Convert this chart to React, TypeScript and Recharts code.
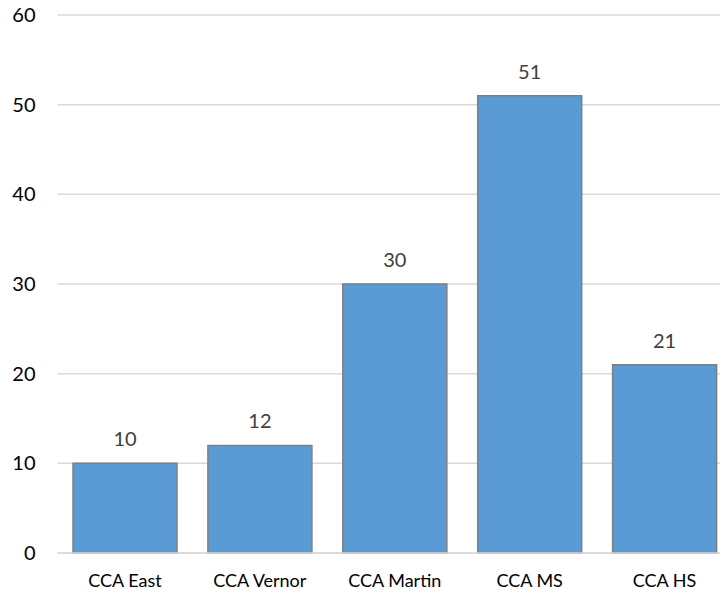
import { Bar, BarChart, CartesianGrid, LabelList, XAxis, YAxis } from "recharts";

const schools = ["CCA East", "CCA Vernor", "CCA Martin", "CCA MS", "CCA HS"];
const counts = [10, 12, 30, 51, 21];
const yTicks = [0, 10, 20, 30, 40, 50, 60];

const data = schools.map((name, i) => ({ name, value: counts[i] }));

const font = "Lato, 'Open Sans', sans-serif";

export default function App() {
  return (
    <div style={{ margin: -8, width: 728, height: 595, overflow: "hidden", background: "#fff" }}>
      <BarChart
        width={732}
        height={640}
        data={data}
        margin={{ top: 15, right: 0, bottom: 0, left: 0 }}
        barCategoryGap="11.5%"
      >
        <CartesianGrid vertical={false} stroke="#d9d9d9" strokeWidth={1.5} />
        <XAxis
          dataKey="name"
          height={87}
          tickLine={false}
          axisLine={{ stroke: "#d9d9d9", strokeWidth: 1.5 }}
          tickMargin={15}
          tick={{ fill: "#000", fontSize: 18, fontFamily: font }}
          interval={0}
        />
        <YAxis
          width={57.5}
          domain={[0, 60]}
          ticks={yTicks}
          tickLine={false}
          axisLine={false}
          tickSize={0}
          tickMargin={22}
          tick={{ fill: "#000", fontSize: 20, fontFamily: font }}
        />
        <Bar dataKey="value" fill="#5b9bd5" stroke="#7f7f7f" strokeWidth={1.5} isAnimationActive={false}>
          <LabelList
            dataKey="value"
            position="top"
            offset={17}
            fill="#404040"
            fontSize={20}
            fontFamily={font}
          />
        </Bar>
      </BarChart>
    </div>
  );
}
